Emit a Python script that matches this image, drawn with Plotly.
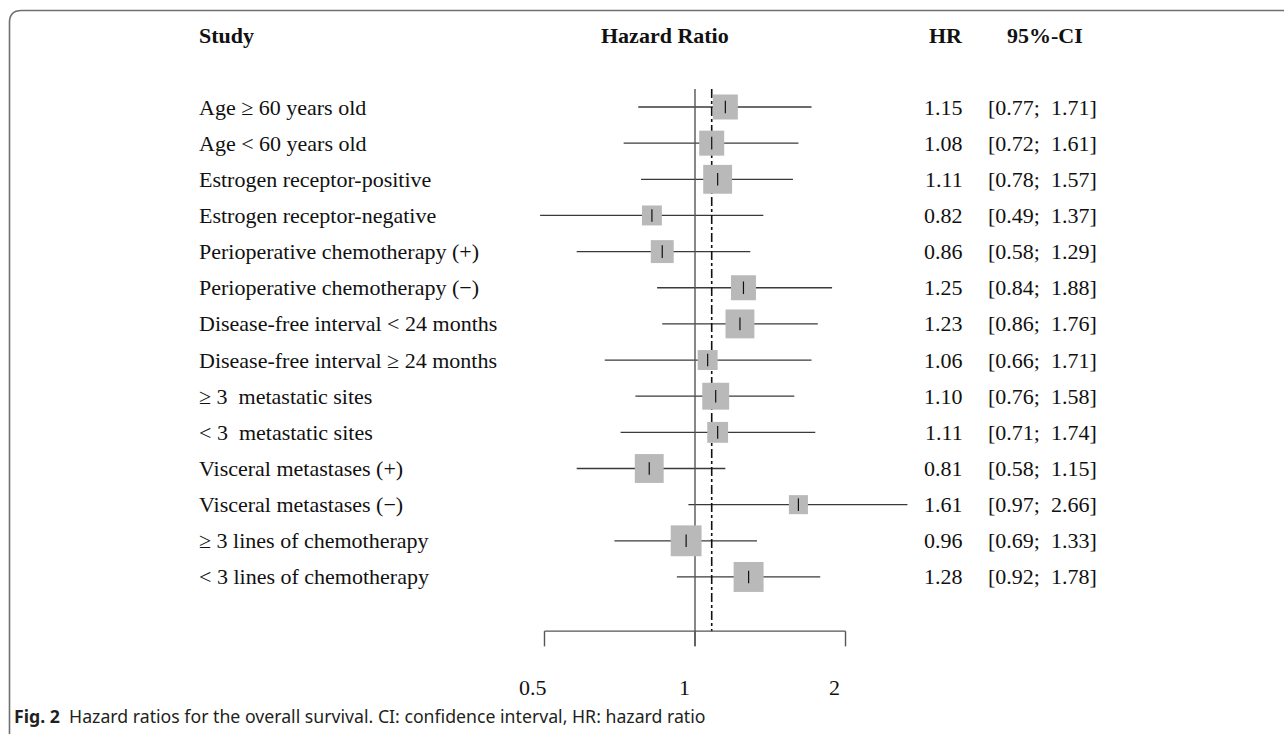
import math
import plotly.graph_objects as go

# ---------------- data ----------------
studies = [
    "Age ≥ 60 years old",
    "Age < 60 years old",
    "Estrogen receptor-positive",
    "Estrogen receptor-negative",
    "Perioperative chemotherapy (+)",
    "Perioperative chemotherapy (−)",
    "Disease-free interval < 24 months",
    "Disease-free interval ≥ 24 months",
    "≥ 3  metastatic sites",
    "< 3  metastatic sites",
    "Visceral metastases (+)",
    "Visceral metastases (−)",
    "≥ 3 lines of chemotherapy",
    "< 3 lines of chemotherapy",
]
hr = [1.15, 1.08, 1.11, 0.82, 0.86, 1.25, 1.23, 1.06, 1.10, 1.11, 0.81, 1.61, 0.96, 1.28]
ci_low = [0.77, 0.72, 0.78, 0.49, 0.58, 0.84, 0.86, 0.66, 0.76, 0.71, 0.58, 0.97, 0.69, 0.92]
ci_high = [1.71, 1.61, 1.57, 1.37, 1.29, 1.88, 1.76, 1.71, 1.58, 1.74, 1.15, 2.66, 1.33, 1.78]
weights = [6.9, 6.9, 9.2, 4.4, 5.8, 6.9, 9.2, 4.4, 8.0, 4.8, 9.2, 4.0, 10.5, 9.9]
overall_hr = 1.08
tick_vals = [0.5, 1, 2]
tick_labels = ["0.5", "1", "2"]
headers = ["Study", "Hazard Ratio", "HR", "95%-CI"]
caption_bold = "Fig. 2"
caption_text = "Hazard ratios for the overall survival. CI: confidence interval, HR: hazard ratio"

# ---------------- geometry / style ----------------
W, H = 1284, 734
SERIF = "Liberation Serif, Times New Roman, serif"
FS = 22
TXT = "#111111"
n = len(studies)
rows = list(range(1, n + 1))
row_px0, row_step = 107, 36.15
y_top = 1 - row_px0 / row_step
y_bot = 1 + (H - row_px0) / row_step
BOX_K = 9.52


def esc(s):
    return s.replace("<", "&lt;").replace(">", "&gt;")


def px(x):
    return x / W


fig = go.Figure()

# CI lines
cx, cy = [], []
for r, lo, hi in zip(rows, ci_low, ci_high):
    cx += [lo, hi, None]
    cy += [r, r, None]
fig.add_trace(go.Scatter(x=cx, y=cy, mode="lines",
                         line=dict(color="#3a3a3a", width=1.3), hoverinfo="skip"))

# reference line at 1 and overall dashed line
axis_y = n + 1.5
tick_bot = axis_y + 0.42
fig.add_trace(go.Scatter(x=[1, 1], y=[0.5, tick_bot], mode="lines",
                         line=dict(color="#555555", width=1.4), hoverinfo="skip"))
fig.add_trace(go.Scatter(x=[overall_hr, overall_hr], y=[0.5, axis_y], mode="lines",
                         line=dict(color="#111111", width=1.6, dash="dashdot"), hoverinfo="skip"))

# boxes
fig.add_trace(go.Scatter(x=hr, y=rows, mode="markers",
                         marker=dict(symbol="square", color="#b9b9b9", opacity=1,
                                     size=[BOX_K * math.sqrt(w) for w in weights],
                                     line=dict(width=0)),
                         hoverinfo="skip"))
# point ticks
fig.add_trace(go.Scatter(x=hr, y=rows, mode="markers",
                         marker=dict(symbol="line-ns", size=9,
                                     line=dict(color="#111111", width=1.2)),
                         hoverinfo="skip"))

# x axis drawn as lines
ax_x = [tick_vals[0], tick_vals[-1], None]
ax_y = [axis_y, axis_y, None]
for t in tick_vals:
    ax_x += [t, t, None]
    ax_y += [axis_y, tick_bot, None]
fig.add_trace(go.Scatter(x=ax_x, y=ax_y, mode="lines",
                         line=dict(color="#555555", width=1.4), hoverinfo="skip"))

annotations = []
tick_label_y = n + 3.07
for t, lab in zip(tick_vals, tick_labels):
    annotations.append(dict(x=math.log10(t), y=tick_label_y, xref="x", yref="y",
                            text=lab, showarrow=False, xshift=-11,
                            font=dict(family=SERIF, size=FS, color=TXT)))

# rows text
for r, s, h, lo, hi in zip(rows, studies, hr, ci_low, ci_high):
    annotations.append(dict(x=px(197), y=r, xref="paper", yref="y", text=esc(s),
                            xanchor="left", yanchor="middle", showarrow=False,
                            font=dict(family=SERIF, size=FS, color=TXT)))
    annotations.append(dict(x=px(965), y=r, xref="paper", yref="y", text=f"{h:.2f}",
                            xanchor="right", yanchor="middle", showarrow=False,
                            font=dict(family=SERIF, size=FS, color=TXT)))
    annotations.append(dict(x=px(986), y=r, xref="paper", yref="y",
                            text=f"[{lo:.2f};",
                            xanchor="left", yanchor="middle", showarrow=False,
                            font=dict(family=SERIF, size=FS, color=TXT)))
    annotations.append(dict(x=px(1049), y=r, xref="paper", yref="y",
                            text=f"{hi:.2f}]",
                            xanchor="left", yanchor="middle", showarrow=False,
                            font=dict(family=SERIF, size=FS, color=TXT)))

# headers
header_y = -0.97
hdr_pos = [(197, "left"), (665, "center"), (965, "right"), (1005, "left")]
for text, (xp, anc) in zip(headers, hdr_pos):
    annotations.append(dict(x=px(xp), y=header_y, xref="paper", yref="y",
                            text=f"<b>{text}</b>", xanchor=anc, yanchor="middle",
                            showarrow=False,
                            font=dict(family=SERIF, size=FS, color=TXT)))

# caption
annotations.append(dict(x=px(12), y=1 - 716 / H, xref="paper", yref="paper",
                        text=f"<b>{caption_bold}</b>  {caption_text}",
                        xanchor="left", yanchor="middle", showarrow=False,
                        font=dict(family="Noto Sans, sans-serif", size=17.7, color="#231f20")))

# frame (rounded top-left corner)
x0, y0, rr = px(9.5), 1 - 10.5 / H, 12
path = (f"M {x0},-0.01 L {x0},{1 - (10.5 + rr) / H} "
        f"Q {x0},{y0} {px(9.5 + rr)},{y0} L 1.01,{y0}")
shapes = [dict(type="path", xref="paper", yref="paper", path=path,
               line=dict(color="#707070", width=1.6))]

fig.update_layout(
    width=W, height=H,
    margin=dict(l=0, r=0, t=0, b=0),
    paper_bgcolor="white", plot_bgcolor="white",
    showlegend=False,
    xaxis=dict(type="log", range=[-0.5, 0.5], domain=[px(445), px(945)],
               visible=False, fixedrange=True),
    yaxis=dict(range=[y_bot, y_top], domain=[0, 1], visible=False, fixedrange=True),
    annotations=annotations,
    shapes=shapes,
)

fig.write_html(
    "out.html",
    config={"displayModeBar": False},
    post_script="document.body.style.margin='0';document.body.style.overflow='hidden';",
)
